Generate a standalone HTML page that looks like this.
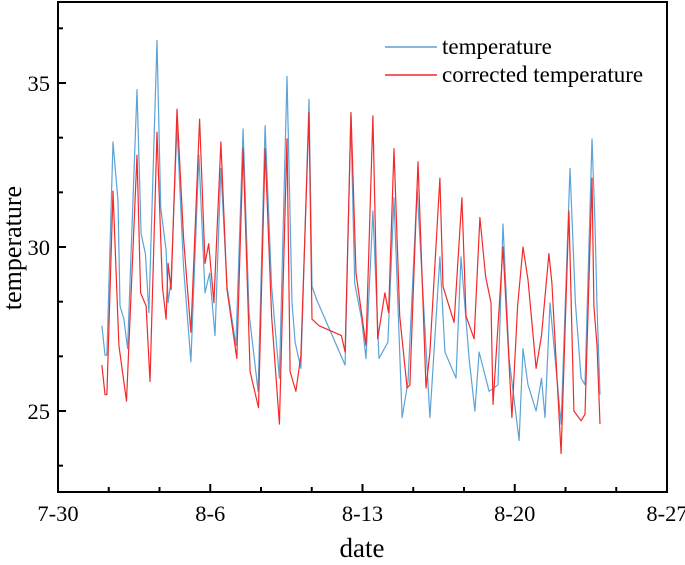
<!DOCTYPE html>
<html><head><meta charset="utf-8"><style>
body{margin:0;background:#fff}
svg text{font-family:"Liberation Serif",serif;fill:#000}
</style></head><body>
<svg id="chart" width="685" height="560" xmlns="http://www.w3.org/2000/svg"></svg>
<script>
const tempDays=[2.02,2.16,2.25,2.53,2.76,2.85,3.03,3.2,3.63,3.82,4.02,4.18,4.55,4.72,4.97,5.06,5.2,5.47,5.77,6.11,6.48,6.76,6.97,7.22,7.49,7.77,8.18,8.51,8.78,9.2,9.52,9.82,10.18,10.53,10.76,10.9,11.17,11.54,11.68,11.89,13.2,13.46,13.64,13.96,14.16,14.48,14.76,15.17,15.45,15.82,16.09,16.51,17.1,17.56,17.79,18.3,18.53,18.9,19.17,19.36,19.82,20.23,20.46,20.74,21.2,21.38,21.61,21.98,22.23,22.39,22.62,23.13,23.54,23.79,24.05,24.23,24.55,24.69,24.78,24.92];
const tempValues=[27.6,26.7,26.7,33.2,31.4,28.2,27.8,26.9,34.8,30.4,29.8,28.0,36.3,31.2,29.9,28.3,29.0,33.7,29.4,26.5,32.8,28.6,29.2,27.3,32.4,28.8,27.0,33.6,28.0,25.6,33.7,28.8,26.0,35.2,28.3,27.1,26.3,34.5,28.8,28.4,26.4,34.0,28.9,27.8,26.6,31.1,26.6,27.1,31.5,24.8,25.9,31.8,24.8,29.7,26.8,26.0,29.7,26.6,25.0,26.8,25.6,25.8,30.7,26.6,24.1,26.9,25.8,25.0,26.0,24.8,28.3,24.6,32.4,28.3,26.0,25.8,33.3,30.7,28.2,25.5];
const corrDays=[2.02,2.16,2.25,2.53,2.8,3.15,3.63,3.8,4.05,4.23,4.55,4.8,4.97,5.06,5.2,5.47,5.77,5.93,6.11,6.51,6.76,6.93,7.17,7.49,7.77,8.22,8.51,8.83,9.22,9.52,9.82,10.18,10.53,10.67,10.94,11.17,11.54,11.68,12.0,13.03,13.2,13.47,13.7,14.16,14.48,14.7,15.03,15.2,15.45,15.71,16.05,16.18,16.55,16.92,17.1,17.56,17.7,18.21,18.57,18.76,19.13,19.4,19.66,19.91,20.0,20.46,20.87,21.13,21.38,21.61,21.98,22.23,22.57,22.71,23.13,23.49,23.72,24.05,24.23,24.55,24.64,24.78,24.92];
const corrValues=[26.4,25.5,25.5,31.7,27.0,25.3,32.8,28.6,28.2,25.9,33.5,28.8,27.8,29.5,28.7,34.2,30.3,28.9,27.4,33.9,29.5,30.1,28.3,33.2,28.7,26.6,33.0,26.2,25.1,33.0,27.9,24.6,33.3,26.2,25.6,26.7,34.1,27.8,27.6,27.3,26.8,34.1,29.2,27.0,34.0,27.2,28.6,28.0,33.0,27.9,25.7,25.8,32.6,25.7,26.8,32.1,28.8,27.7,31.5,27.9,27.2,30.9,29.1,28.3,25.2,30.0,24.8,28.2,30.0,29.0,26.3,27.3,29.8,28.9,23.7,31.1,25.0,24.7,24.9,32.1,28.2,27.0,24.6];
const xTickLabels=["7-30","8-6","8-13","8-20","8-27"];
const xTickDays=[0,7,14,21,28];
const yTickValues=[25,30,35];

const NS="http://www.w3.org/2000/svg";
const svg=document.getElementById('chart');
const L=58,R=667,T=2,B=492;
const X=d=>L+(d/28)*(R-L);
const Y=v=>411-(v-25)*32.8;
function mk(tag,attrs,parent){const e=document.createElementNS(NS,tag);for(const k in attrs)e.setAttribute(k,attrs[k]);(parent||svg).appendChild(e);return e;}

function series(days,vals,color,name){
  const p=mk('path',{d:days.map((d,i)=>(i?'L':'M')+X(d).toFixed(1)+','+Y(vals[i]).toFixed(1)).join(''),fill:'none',stroke:color,'stroke-width':1.2,'stroke-linejoin':'round'});
  
  
}
series(tempDays,tempValues,'#5ca3d6','temperature-line');
series(corrDays,corrValues,'#f22a2a','corrected-temperature-line');

const frame=mk('rect',{x:L,y:T,width:R-L,height:B-T,fill:'none',stroke:'#000','stroke-width':2});



for(let d=0;d<=28;d+=7/3){
  const major=Math.abs(d/7-Math.round(d/7))<0.01;
  const t=mk('line',{x1:X(d),x2:X(d),y1:B,y2:B-(major?8:5),stroke:'#000','stroke-width':2});
  
  
}
xTickLabels.forEach((s,i)=>{
  const t=mk('text',{x:X(xTickDays[i]),y:521,'text-anchor':'middle','font-size':22.5});
  t.textContent=s;
  
  
});
for(let v=25-5/3*2;v<=37.5;v+=5/3){
  const major=Math.abs(v/5-Math.round(v/5))<0.01;
  if(Y(v)<T||Y(v)>B)continue;
  const t=mk('line',{x1:L,x2:L+(major?8:5),y1:Y(v),y2:Y(v),stroke:'#000','stroke-width':2});
  
  
}
yTickValues.forEach(v=>{
  const t=mk('text',{x:50,y:Y(v)+8,'text-anchor':'end','font-size':22.5});
  t.textContent=v;
  
  
});
const xt=mk('text',{x:362,y:557,'text-anchor':'middle','font-size':27});
xt.textContent='date';


const yt=mk('text',{x:0,y:0,'text-anchor':'middle','font-size':26,transform:'translate(21,248) rotate(-90)'});
yt.textContent='temperature';



const lg=mk('g',{});


[['temperature','#5ca3d6',47],['corrected temperature','#f22a2a',75]].forEach(([s,c,y])=>{
  const l=mk('line',{x1:385,x2:437,y1:y,y2:y,stroke:c,'stroke-width':1.5},lg);
  
  
  const t=mk('text',{x:442,y:y+7,'font-size':23},lg);
  t.textContent=s;
  
  
});
</script>
</body></html>
